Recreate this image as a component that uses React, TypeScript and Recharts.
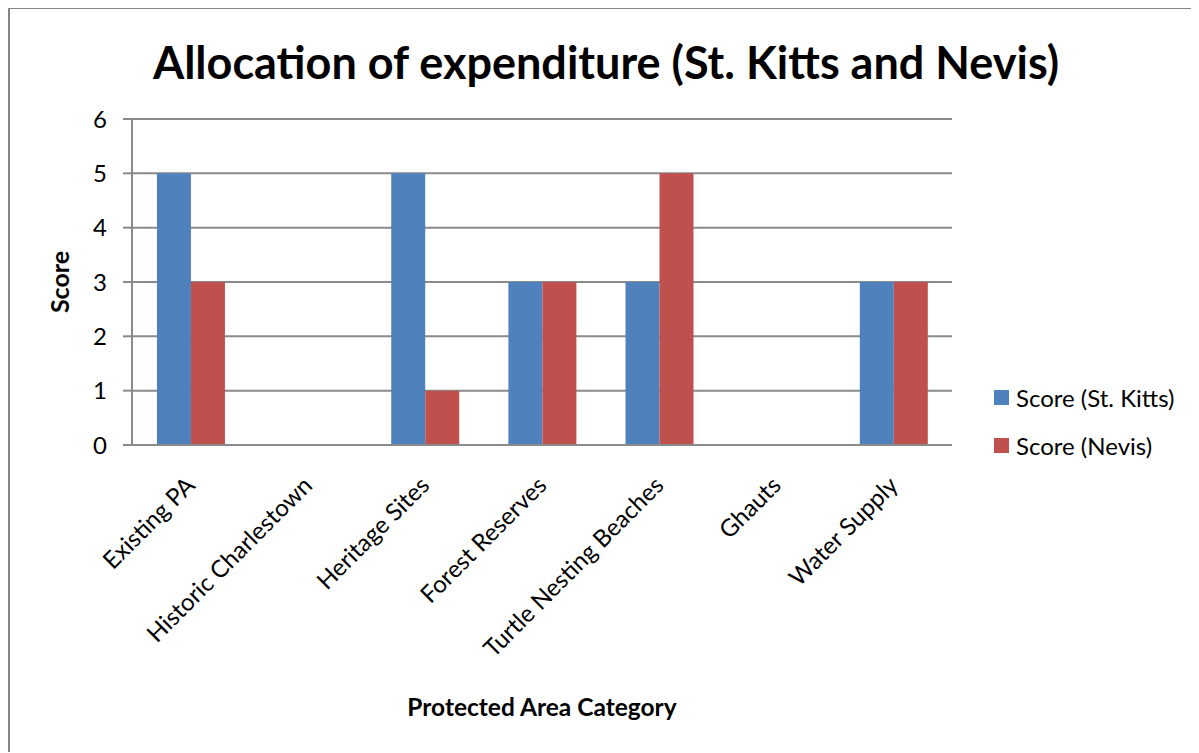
import React from 'react';
import { BarChart, Bar, XAxis, YAxis, CartesianGrid, Legend } from 'recharts';

const categories = [
  'Existing PA',
  'Historic Charlestown',
  'Heritage Sites',
  'Forest Reserves',
  'Turtle Nesting Beaches',
  'Ghauts',
  'Water Supply',
];
const stKitts = [5, 0, 5, 3, 3, 0, 3];
const nevis = [3, 0, 1, 3, 5, 0, 3];
const yTicks = [0, 1, 2, 3, 4, 5, 6];
const seriesOrder = ['stKitts', 'nevis'];

const data = categories.map((name, i) => ({ name, stKitts: stKitts[i], nevis: nevis[i] }));

const FONT = 'Lato, "Open Sans", sans-serif';
const GRID = '#8a8a8a';

const CategoryTick = (props: any) => {
  const { x, y, payload } = props;
  return (
    <g transform={`translate(${x + 6},${y + 40})`}>
      <text transform="rotate(-45)" textAnchor="end" fontSize={24} fill="#000" fontFamily={FONT}>
        {payload.value}
      </text>
    </g>
  );
};

const ScoreLabel = (props: any) => {
  const { viewBox } = props;
  const cx = viewBox.x - 1;
  const cy = viewBox.y + viewBox.height / 2;
  return (
    <text
      x={cx}
      y={cy}
      transform={`rotate(-90, ${cx}, ${cy})`}
      textAnchor="middle"
      dominantBaseline="central"
      fontSize={25}
      fontWeight="bold"
      fontFamily={FONT}
      fill="#000"
    >
      Score
    </text>
  );
};

const renderLegend = (props: any) => {
  const items = [...props.payload].sort(
    (a: any, b: any) => seriesOrder.indexOf(a.dataKey) - seriesOrder.indexOf(b.dataKey)
  );
  return (
    <div style={{ fontFamily: FONT, fontSize: 24, color: '#000' }}>
      {items.map((entry: any) => (
        <div key={entry.value} style={{ display: 'flex', alignItems: 'center', height: 48 }}>
          <span style={{ width: 15, height: 15, background: entry.color, marginRight: 7, display: 'inline-block' }} />
          <span>{entry.value}</span>
        </div>
      ))}
    </div>
  );
};

export default function App() {
  return (
    <div
      style={{
        position: 'relative',
        width: 1189,
        height: 743,
        borderLeft: '2px solid #868686',
        borderTop: '2px solid #868686',
        marginTop: -1,
        background: '#fff',
      }}
    >
      <div
        style={{
          position: 'absolute',
          left: 0,
          top: 26,
          width: 1192,
          textAlign: 'center',
          fontFamily: FONT,
          fontWeight: 'bold',
          fontSize: 45,
          color: '#000',
          zIndex: 1,
        }}
      >
        Allocation of expenditure (St. Kitts and Nevis)
      </div>
      <BarChart
        width={1189}
        height={743}
        data={data}
        margin={{ top: 110, right: 247, left: 50, bottom: 32 }}
        barCategoryGap="21.3%"
        barGap={0}
      >
        <CartesianGrid vertical={false} stroke={GRID} strokeWidth={2} />
        <XAxis
          dataKey="name"
          height={275}
          interval={0}
          tickSize={0}
          tickLine={false}
          axisLine={{ stroke: GRID, strokeWidth: 2 }}
          tick={<CategoryTick />}
          label={{
            value: 'Protected Area Category',
            position: 'insideBottom',
            offset: 4,
            style: { fontFamily: FONT, fontSize: 24.5, fontWeight: 'bold', fill: '#000' },
          }}
        />
        <YAxis
          width={72}
          domain={[0, 6]}
          ticks={yTicks}
          interval={0}
          tickSize={9}
          tickMargin={16}
          axisLine={{ stroke: GRID, strokeWidth: 2 }}
          tickLine={{ stroke: GRID, strokeWidth: 2 }}
          tick={{ fontFamily: FONT, fontSize: 24, fill: '#000' }}
          label={<ScoreLabel />}
        />
        <Legend
          content={renderLegend}
          layout="horizontal"
          align="center"
          verticalAlign="middle"
          wrapperStyle={{ left: 984, top: 364, width: 205 }}
        />
        <Bar dataKey="stKitts" name="Score (St. Kitts)" fill="#4F81BD" isAnimationActive={false} />
        <Bar dataKey="nevis" name="Score (Nevis)" fill="#C0504D" isAnimationActive={false} />
      </BarChart>
    </div>
  );
}
